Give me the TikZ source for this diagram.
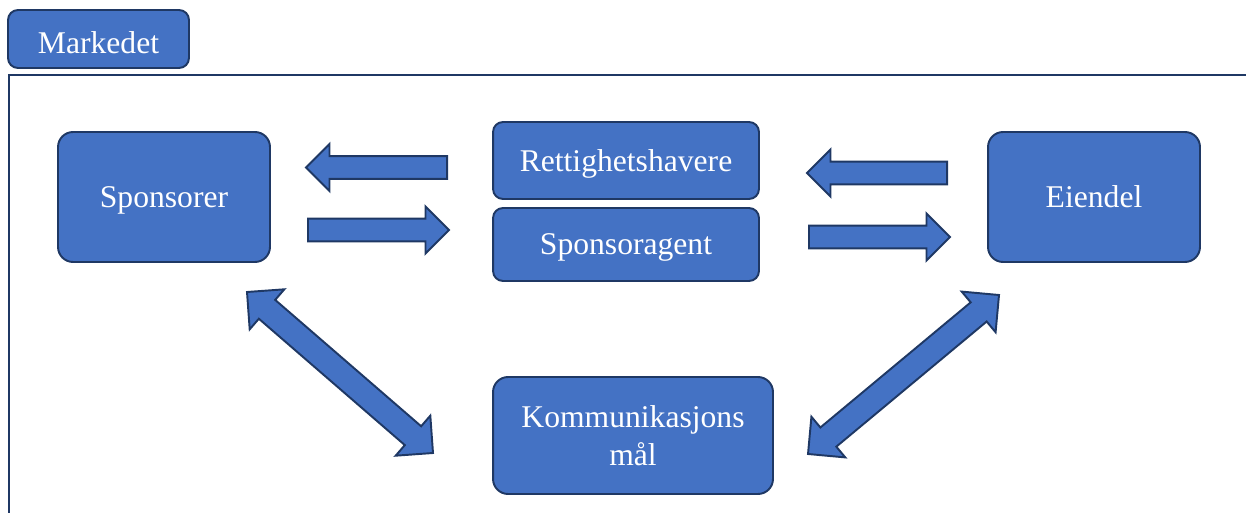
\documentclass[tikz,border=0pt]{standalone}
\usepackage{fontspec}
\setmainfont{Liberation Serif}
\usetikzlibrary{shapes.arrows,calc}

\definecolor{boxblue}{HTML}{4472C4}
\definecolor{boxline}{HTML}{1F3864}

\tikzset{
  box/.style={draw=boxline,fill=boxblue,line width=1.1pt,rounded corners=0.3cm,
    text=white,font=\fontsize{18}{21.6}\selectfont,align=center,inner sep=0pt,text depth=0pt},
  smallbox/.style={box,rounded corners=0.2cm},
  fatarrow/.style={single arrow,draw=boxline,fill=boxblue,line width=1.1pt,anchor=tail,
    inner xsep=0pt,inner ysep=0.21cm,single arrow head extend=0.24cm,minimum width=0pt},
  twoarrow/.style={double arrow,draw=boxline,fill=boxblue,line width=1.1pt,
    inner xsep=0pt,inner ysep=0.23cm,double arrow head extend=0.28cm,minimum width=0pt},
  frameline/.style={draw=boxline,line width=1.7pt}
}

% block arrow from #2 to #3, style #1, name #4
\newcommand{\blockarr}[4]{%
  \path let \p1=($(#3)-(#2)$) in
    node[#1,minimum height={veclen(\x1,\y1)},rotate={atan2(\y1,\x1)}] (#4) at (#2) {};}
\newcommand{\twoarr}[4]{%
  \path let \p1=($(#3)-(#2)$) in
    node[#1,minimum height={veclen(\x1,\y1)},rotate={atan2(\y1,\x1)}] (#4) at ($(#2)!.5!(#3)$) {};}

\begin{document}
\begin{tikzpicture}[x=0.02cm,y=-0.02cm]
\useasboundingbox (0,0) rectangle (1246,513);

\draw[frameline] (1246,75) -- (9,75) -- (9,513);

\node[smallbox,minimum width=3.62cm,minimum height=1.16cm,text height=16pt] (markedet) at (98.5,39) {Markedet};

\node[box,minimum width=4.24cm,minimum height=2.6cm] (sponsorer) at (164,197) {Sponsorer};
\node[smallbox,minimum width=5.32cm,minimum height=1.54cm] (rettighet) at (626,160.5) {Rettighetshavere};
\node[smallbox,minimum width=5.32cm,minimum height=1.46cm] (agent) at (626,244.5) {Sponsoragent};
\node[box,minimum width=4.24cm,minimum height=2.6cm] (eiendel) at (1094,197) {Eiendel};
\node[box,minimum width=5.6cm,minimum height=2.34cm] (maal) at (633,435.5) {Kommunikasjons\\m\aa l};

% arrow ends
\coordinate (lt1) at (448,167.5);
\coordinate (lt2) at (307,167.5);
\coordinate (lb1) at (307,230);
\coordinate (lb2) at (448,230);
\coordinate (rt1) at (948,173);
\coordinate (rt2) at (808,173);
\coordinate (rb1) at (808,237);
\coordinate (rb2) at (949,237);
\coordinate (dl1) at (247,292);
\coordinate (dl2) at (433,453);
\coordinate (dr1) at (999,295);
\coordinate (dr2) at (808,454);

\blockarr{fatarrow}{lt1}{lt2}{toSponsor}
\blockarr{fatarrow}{lb1}{lb2}{fromSponsor}
\blockarr{fatarrow}{rt1}{rt2}{fromEiendel}
\blockarr{fatarrow}{rb1}{rb2}{toEiendel}
\twoarr{twoarrow}{dl1}{dl2}{sponsorMaal}
\twoarr{twoarrow}{dr1}{dr2}{eiendelMaal}

\end{tikzpicture}
\end{document}
